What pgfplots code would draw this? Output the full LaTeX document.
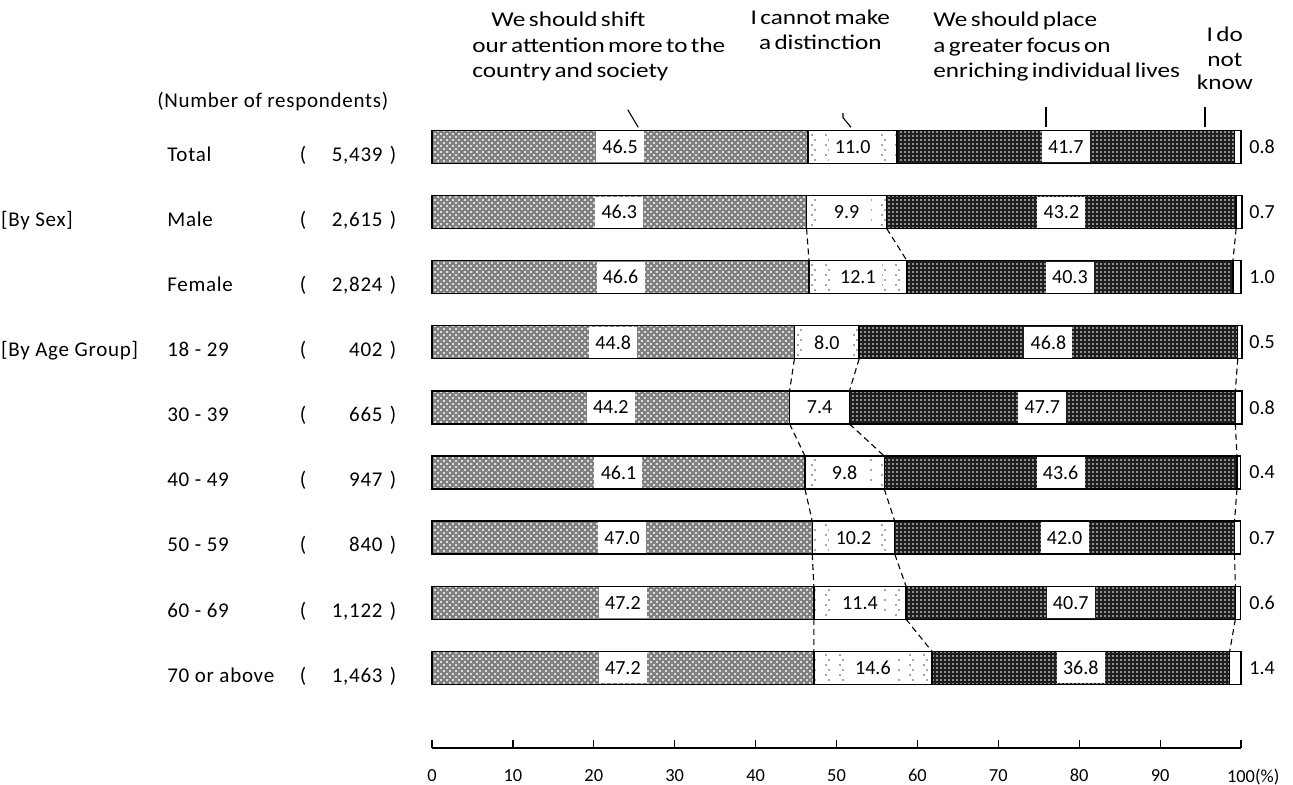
\documentclass[border=0pt]{standalone}
\usepackage{fontspec}
\setmainfont{Carlito}
\newfontfamily\hdrfont{Carlito}[FakeStretch=1.2,WordSpace=0.6]
\newfontfamily\lblfont{Carlito}[LetterSpace=3.5]
\usepackage{pgfplots}
\usepackage{pgfplotstable}
\pgfplotsset{compat=1.18}
\usetikzlibrary{patterns}

\pgfdeclarepatternformonly{xhdots}{\pgfpoint{-1pt}{-1pt}}{\pgfpoint{4pt}{4pt}}{\pgfpoint{3pt}{3pt}}{%
  \pgfpathcircle{\pgfpoint{0pt}{0pt}}{0.6pt}%
  \pgfpathcircle{\pgfpoint{1.5pt}{1.5pt}}{0.6pt}%
  \pgfusepath{fill}}
\pgfdeclarepatternformonly{sparsedots}{\pgfpoint{-1pt}{-1pt}}{\pgfpoint{8pt}{6pt}}{\pgfpoint{7pt}{5pt}}{%
  \pgfpathcircle{\pgfpoint{0pt}{0pt}}{0.45pt}%
  \pgfpathcircle{\pgfpoint{1.5pt}{2.5pt}}{0.45pt}%
  \pgfusepath{fill}}
\pgfdeclarepatternformonly{finedots}{\pgfpoint{-1pt}{-1pt}}{\pgfpoint{3pt}{3pt}}{\pgfpoint{2pt}{2pt}}{%
  \pgfpathcircle{\pgfpoint{0.5pt}{0.5pt}}{0.42pt}%
  \pgfusepath{fill}}

\pgfplotstableread{
y a b c d
8 46.5 11.0 41.7 0.8
7 46.3 9.9 43.2 0.7
6 46.6 12.1 40.3 1.0
5 44.8 8.0 46.8 0.5
4 44.2 7.4 47.7 0.8
3 46.1 9.8 43.6 0.4
2 47.0 10.2 42.0 0.7
1 47.2 11.4 40.7 0.6
0 47.2 14.6 36.8 1.4
}\data

\begin{document}
\begin{tikzpicture}[font=\fontsize{10}{11}\selectfont]
\useasboundingbox (0,0) rectangle (646.5pt,392.5pt);
\pgfplotsset{myax/.style={at={(216pt,18.5pt)}, anchor=south west, scale only axis,
  width=404.5pt, height=324pt, xmin=0, xmax=100, ymin=-1.23, ymax=8.72,
  enlargelimits=false, clip=false,
  /pgf/number format/assume math mode=true}}
\begin{axis}[myax, xbar stacked, bar width=16.5pt,
  axis y line=none, axis x line*=bottom, ytick=\empty,
  xtick={0,10,...,100},
  xticklabels={0,10,20,30,40,50,60,70,80,90,{100\rlap{(\%)}}},
  xtick align=inside, major tick length=4pt,
  tick style={black, line width=0.6pt},
  axis line style={black, line width=0.7pt},
  xticklabel style={yshift=-7pt, font=\fontsize{9.2}{11}\selectfont}]
\addplot[draw=black, line width=0.7pt, fill=black!50, postaction={pattern=xhdots, pattern color=white}] table[x=a, y=y]{\data};
\addplot[draw=black, line width=0.7pt, fill=white, postaction={pattern=sparsedots, pattern color=black!70}] table[x=b, y=y]{\data};
\addplot[draw=black, line width=0.7pt, fill=black!88, postaction={pattern=finedots, pattern color=white}] table[x=c, y=y]{\data};
\addplot[draw=black, line width=0.7pt, fill=white] table[x=d, y=y]{\data};
\end{axis}

\begin{axis}[myax, hide axis,
  /pgf/number format/.cd, fixed, fixed zerofill, precision=1, assume math mode=true]
\pgfplotsset{lbl/.style={draw=none, mark=none, nodes near coords, point meta=explicit,
  nodes near coords style={anchor=center, fill=white, inner sep=0pt, minimum width=24pt,
  minimum height=15.5pt, font=\fontsize{10}{11}\selectfont}}}
\addplot[lbl] table[x expr=\thisrow{a}/2, y=y, meta=a]{\data};
\addplot[lbl] table[x expr=\thisrow{a}+\thisrow{b}/2, y=y, meta=b]{\data};
\addplot[lbl] table[x expr=\thisrow{a}+\thisrow{b}+\thisrow{c}/2, y=y, meta=c]{\data};
\addplot[draw=none, mark=none, nodes near coords, point meta=explicit,
  nodes near coords style={anchor=center, inner sep=0pt, font=\fontsize{10}{11}\selectfont}]
  table[x expr=102.6, y=y, meta=d]{\data};

% connectors
\pgfplotsset{conn/.style={black, line width=0.55pt, dash pattern=on 3pt off 2pt, unbounded coords=jump}}
\addplot[conn] coordinates {(46.3,6.747) (46.6,6.253) (nan,nan) (56.2,6.747) (58.7,6.253) (nan,nan) (99.4,6.747) (99.0,6.253)};
\addplot[conn] coordinates {(44.8,4.747) (44.2,4.253) (nan,nan) (52.8,4.747) (51.6,4.253) (nan,nan) (99.6,4.747) (99.3,4.253)};
\addplot[conn] coordinates {(44.2,3.747) (46.1,3.253) (nan,nan) (51.6,3.747) (55.9,3.253) (nan,nan) (99.3,3.747) (99.5,3.253)};
\addplot[conn] coordinates {(46.1,2.747) (47.0,2.253) (nan,nan) (55.9,2.747) (57.2,2.253) (nan,nan) (99.5,2.747) (99.2,2.253)};
\addplot[conn] coordinates {(47.0,1.747) (47.2,1.253) (nan,nan) (57.2,1.747) (58.6,1.253) (nan,nan) (99.2,1.747) (99.3,1.253)};
\addplot[conn] coordinates {(47.2,0.747) (47.2,0.253) (nan,nan) (58.6,0.747) (61.8,0.253) (nan,nan) (99.3,0.747) (98.6,0.253)};

% leader lines
\draw[black, line width=0.55pt] (axis cs:24.2,8.57) -- (axis cs:25.5,8.30);
\draw[black, line width=0.55pt] (axis cs:50.8,8.52) -- (axis cs:50.8,8.45) -- (axis cs:51.8,8.30);
\draw[black, line width=0.55pt] (axis cs:75.9,8.61) -- (axis cs:75.9,8.30);
\draw[black, line width=0.55pt] (axis cs:95.55,8.61) -- (axis cs:95.55,8.30);

% header texts
\begin{scope}[every node/.style={inner sep=0pt, font=\hdrfont\fontsize{10.5}{12}\selectfont}]
\node[anchor=base west] at (axis cs:7.3,9.851) {We should shift};
\node[anchor=base west] at (axis cs:4.95,9.452) {our attention more to the};
\node[anchor=base west] at (axis cs:4.95,9.068) {country and society};
\node[anchor=base] at (axis cs:48.0,9.882) {I cannot make};
\node[anchor=base] at (axis cs:48.0,9.498) {a distinction};
\node[anchor=base west] at (axis cs:61.93,9.851) {We should place};
\node[anchor=base west] at (axis cs:61.93,9.452) {a greater focus on};
\node[anchor=base west] at (axis cs:61.93,9.068) {enriching individual lives};
\node[anchor=base] at (axis cs:98.0,9.621) {I do};
\node[anchor=base] at (axis cs:98.0,9.237) {not};
\node[anchor=base] at (axis cs:98.0,8.883) {know};
\end{scope}

% left labels
\begin{scope}[every node/.style={inner sep=0pt, font=\lblfont\fontsize{10.5}{12}\selectfont}]
\node[anchor=base west] at (axis cs:-34.0,8.607) {(Number of respondents)};
\node[anchor=base west] at (axis cs:-53.3,6.78) {[By Sex]};
\node[anchor=base west] at (axis cs:-53.3,4.78) {[By Age Group]};

\node[anchor=base west] at (axis cs:-32.76,7.78) {Total};
\node[anchor=base west] at (axis cs:-32.76,6.78) {Male};
\node[anchor=base west] at (axis cs:-32.76,5.78) {Female};
\node[anchor=base west] at (axis cs:-32.76,4.78) {18 - 29};
\node[anchor=base west] at (axis cs:-32.76,3.78) {30 - 39};
\node[anchor=base west] at (axis cs:-32.76,2.78) {40 - 49};
\node[anchor=base west] at (axis cs:-32.76,1.78) {50 - 59};
\node[anchor=base west] at (axis cs:-32.76,0.78) {60 - 69};
\node[anchor=base west] at (axis cs:-32.76,-0.22) {70 or above};

\node[anchor=base] at (axis cs:-15.95,7.78) {(};
\node[anchor=base] at (axis cs:-15.95,6.78) {(};
\node[anchor=base] at (axis cs:-15.95,5.78) {(};
\node[anchor=base] at (axis cs:-15.95,4.78) {(};
\node[anchor=base] at (axis cs:-15.95,3.78) {(};
\node[anchor=base] at (axis cs:-15.95,2.78) {(};
\node[anchor=base] at (axis cs:-15.95,1.78) {(};
\node[anchor=base] at (axis cs:-15.95,0.78) {(};
\node[anchor=base] at (axis cs:-15.95,-0.22) {(};

\node[anchor=base east] at (axis cs:-6.06,7.78) {5,439};
\node[anchor=base east] at (axis cs:-6.06,6.78) {2,615};
\node[anchor=base east] at (axis cs:-6.06,5.78) {2,824};
\node[anchor=base east] at (axis cs:-6.06,4.78) {402};
\node[anchor=base east] at (axis cs:-6.06,3.78) {665};
\node[anchor=base east] at (axis cs:-6.06,2.78) {947};
\node[anchor=base east] at (axis cs:-6.06,1.78) {840};
\node[anchor=base east] at (axis cs:-6.06,0.78) {1,122};
\node[anchor=base east] at (axis cs:-6.06,-0.22) {1,463};

\node[anchor=base] at (axis cs:-4.82,7.78) {)};
\node[anchor=base] at (axis cs:-4.82,6.78) {)};
\node[anchor=base] at (axis cs:-4.82,5.78) {)};
\node[anchor=base] at (axis cs:-4.82,4.78) {)};
\node[anchor=base] at (axis cs:-4.82,3.78) {)};
\node[anchor=base] at (axis cs:-4.82,2.78) {)};
\node[anchor=base] at (axis cs:-4.82,1.78) {)};
\node[anchor=base] at (axis cs:-4.82,0.78) {)};
\node[anchor=base] at (axis cs:-4.82,-0.22) {)};
\end{scope}
\end{axis}
\end{tikzpicture}
\end{document}
